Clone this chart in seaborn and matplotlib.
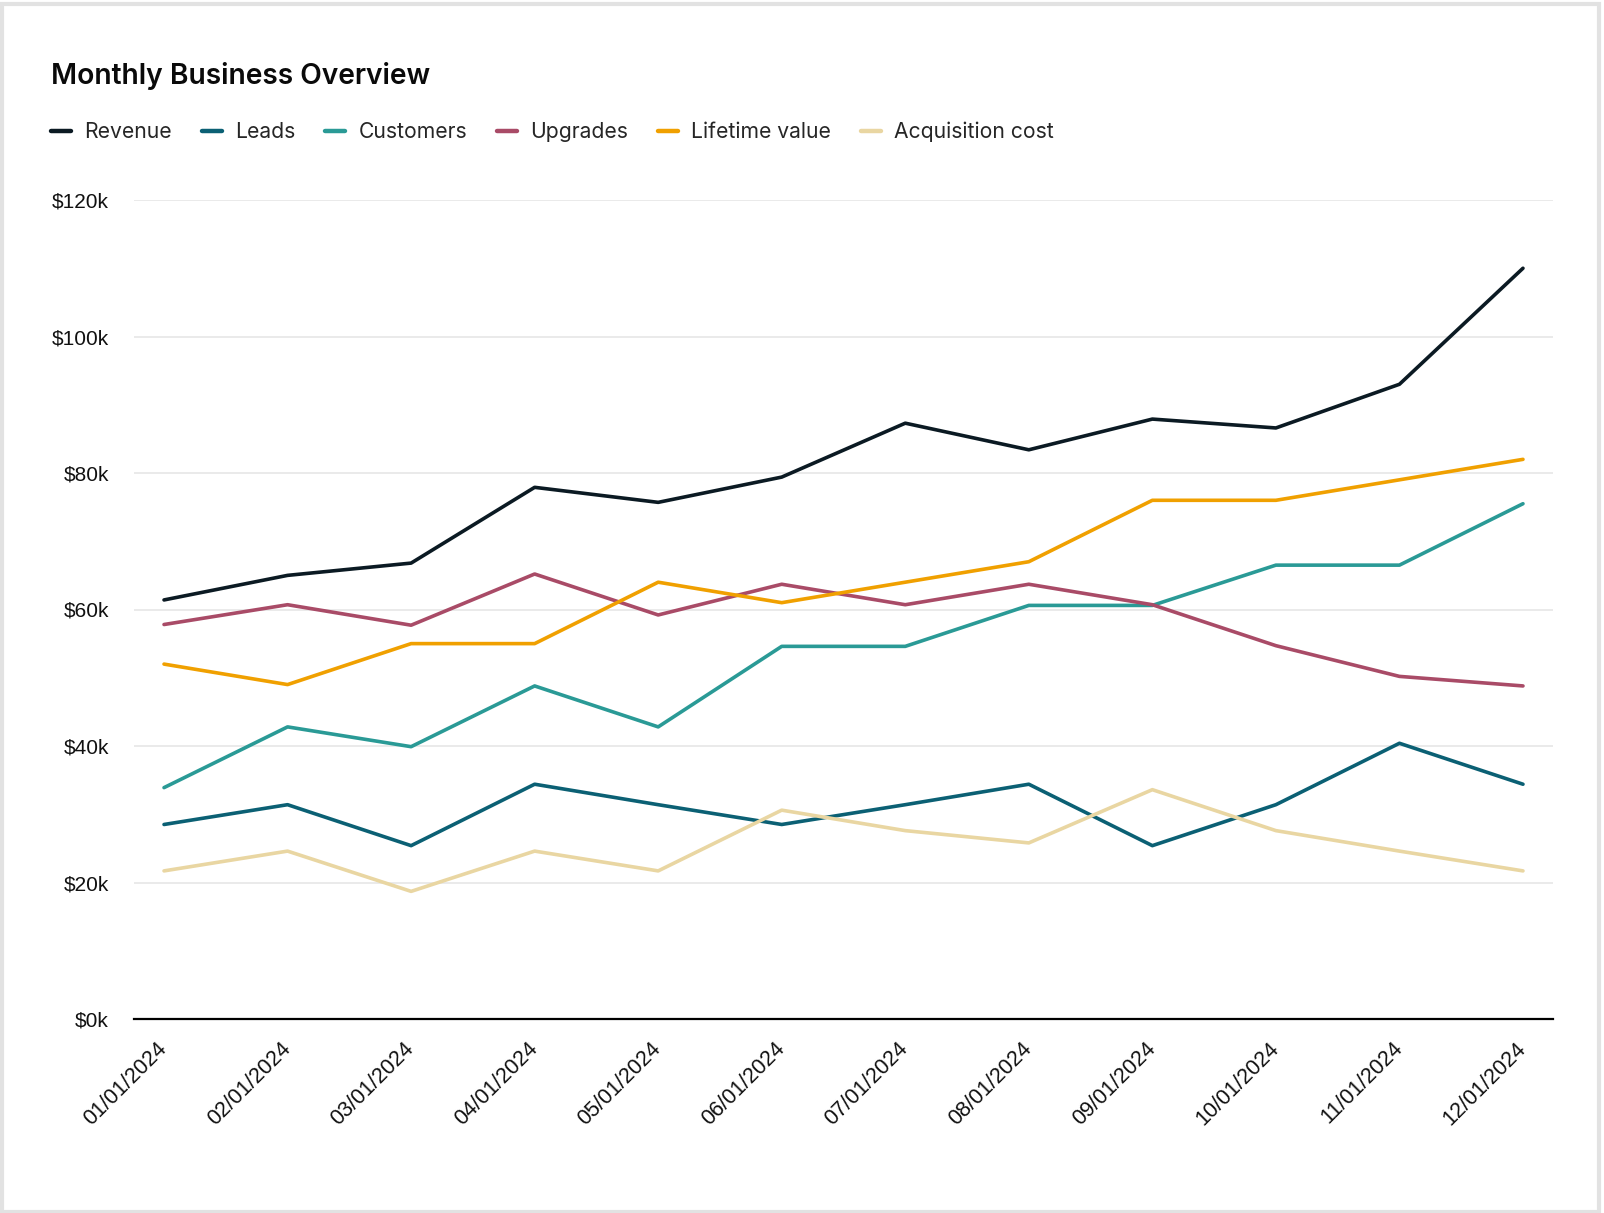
import matplotlib
matplotlib.use("Agg")
import matplotlib.pyplot as plt
import seaborn as sns
import pandas as pd
from matplotlib.patches import Rectangle
from matplotlib.ticker import FuncFormatter

months = ["01/01/2024", "02/01/2024", "03/01/2024", "04/01/2024", "05/01/2024", "06/01/2024",
          "07/01/2024", "08/01/2024", "09/01/2024", "10/01/2024", "11/01/2024", "12/01/2024"]
revenue = [61.4, 65.0, 66.8, 77.9, 75.7, 79.4, 87.3, 83.4, 87.9, 86.6, 93.0, 110.0]
leads = [28.5, 31.4, 25.4, 34.4, 31.4, 28.5, 31.4, 34.4, 25.4, 31.4, 40.4, 34.4]
customers = [33.9, 42.8, 39.9, 48.8, 42.8, 54.6, 54.6, 60.6, 60.6, 66.5, 66.5, 75.5]
upgrades = [57.8, 60.7, 57.7, 65.2, 59.2, 63.7, 60.7, 63.7, 60.7, 54.7, 50.2, 48.8]
lifetime_value = [52.0, 49.0, 55.0, 55.0, 64.0, 61.0, 64.0, 67.0, 76.0, 76.0, 79.0, 82.0]
acquisition_cost = [21.7, 24.6, 18.7, 24.6, 21.7, 30.6, 27.6, 25.8, 33.6, 27.6, 24.6, 21.7]

series_names = ["Revenue", "Leads", "Customers", "Upgrades", "Lifetime value", "Acquisition cost"]
series_values = [revenue, leads, customers, upgrades, lifetime_value, acquisition_cost]
colors = ["#0b1a23", "#0b6074", "#2a9a96", "#a94b67", "#f0a000", "#e9d6a2"]

rows = []
for name, vals in zip(series_names, series_values):
    for i, (m, v) in enumerate(zip(months, vals)):
        rows.append({"idx": i, "month": m, "series": name, "value": v * 1000})
df = pd.DataFrame(rows)

sns.set_theme(style="white")
plt.rcParams["font.family"] = ["Liberation Sans", "DejaVu Sans"]

W, H = 1604, 1213
fig = plt.figure(figsize=(W / 100, H / 100), dpi=100)
fig.patch.set_facecolor("white")
ax = fig.add_axes([134 / W, 1 - 1019 / H, (1553 - 134) / W, (1019 - 200) / H])

sns.lineplot(data=df, x="idx", y="value", hue="series", hue_order=series_names,
             palette=colors, linewidth=2.6, ax=ax, legend=True)

ax.set_xlim(-0.243, 11.243)
ax.set_ylim(0, 120000)
ax.set_yticks(range(0, 120001, 20000))
ax.yaxis.set_major_formatter(FuncFormatter(lambda v, p: f"${int(v/1000)}k"))
ax.set_xticks(range(len(months)))
ax.set_xticklabels(months, rotation=45, ha="right", va="center", rotation_mode="anchor")
ax.set_xlabel("")
ax.set_ylabel("")
ax.grid(axis="y", color="#e8e8e8", linewidth=1.3)
ax.set_axisbelow(True)
for s in ["top", "right", "left"]:
    ax.spines[s].set_visible(False)
ax.spines["bottom"].set_color("#000000")
ax.spines["bottom"].set_linewidth(1.6)
ax.tick_params(axis="y", length=0, pad=18, labelsize=15, labelcolor="#111111")
ax.tick_params(axis="x", length=0, pad=19, labelsize=15.5, labelcolor="#111111")

handles, labels = ax.get_legend_handles_labels()
ax.get_legend().remove()
for h in handles:
    h.set_linewidth(3.2)
fig.legend(handles, labels, loc="center left", bbox_to_anchor=(51 / W, 1 - 132 / H),
           ncol=6, frameon=False, borderpad=0, borderaxespad=0, handlelength=0.95,
           handletextpad=0.62, columnspacing=1.42,
           prop={"family": ["Inter", "DejaVu Sans"], "size": 15.2})

fig.text(51 / W, 1 - 76 / H, "Monthly Business Overview", fontsize=20.3, fontweight="semibold",
         family=["Inter", "DejaVu Sans"], color="#0a0a0a", va="center", ha="left")

fig.patches.append(Rectangle((0.001, 0.001), 0.996, 0.996, transform=fig.transFigure,
                             fill=False, edgecolor="#e2e2e2", linewidth=3))

fig.savefig("out.png", dpi=100, facecolor="white")
